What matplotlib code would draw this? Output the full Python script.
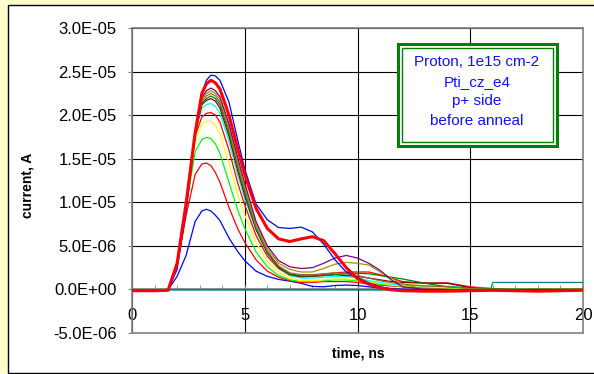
import numpy as np
import matplotlib.pyplot as plt
from matplotlib.patches import Rectangle
from matplotlib.lines import Line2D
from matplotlib.ticker import MultipleLocator, FuncFormatter

plt.rcParams['font.family'] = ['Liberation Sans', 'DejaVu Sans']

W, H = 594, 374

# time grid in ns, currents in units of 1e-6 A
time_ns = [0, 1.0, 1.6, 2.0, 2.4, 2.8, 3.1, 3.3, 3.5, 3.7,
           3.9, 4.3, 4.7, 5.0, 5.5, 6.0, 6.5, 7.0, 7.5,
           8.0, 8.5, 9.0, 9.5, 10.0, 10.5, 11.0, 11.5, 12.0,
           13.0, 14.0, 15.0, 16.0, 17.0, 18.0, 19.0, 20.0]

blue_big = [-0.1, -0.1, -0.05, 2.3, 9.0, 17.5, 22.5, 24.0, 24.6, 24.5,
            24.0, 21.5, 17.0, 13.8, 9.8, 8.0, 7.1, 7.0, 7.15,
            6.6, 5.2, 3.4, 2.0, 1.4, 0.75, 0.3, 0.1, 0.0,
            -0.05, -0.05, -0.05, -0.05, -0.05, -0.05, -0.05, -0.05]
red_thick = [-0.15, -0.15, -0.1, 3.0, 9.9, 18.0, 22.5, 23.6, 24.0, 23.7,
             23.0, 20.0, 16.0, 13.2, 9.3, 7.0, 5.8, 5.5, 5.8,
             6.05, 5.6, 4.1, 2.5, 1.25, 0.6, 0.2, -0.05, -0.15,
             -0.2, -0.2, -0.15, -0.1, -0.15, -0.2, -0.15, -0.1]
purple = [-0.1, -0.1, -0.05, 3.0, 9.9, 18.0, 22.0, 22.8, 23.1, 22.8,
          22.1, 19.0, 15.0, 12.2, 7.8, 5.0, 3.3, 2.6, 2.4,
          2.5, 3.0, 3.6, 3.9, 3.6, 3.0, 2.2, 1.1, 0.3,
          0.0, -0.05, -0.05, -0.05, -0.05, -0.05, -0.05, -0.05]
olive = [-0.1, -0.1, -0.05, 3.0, 9.9, 18.0, 21.8, 22.5, 22.8, 22.5,
         21.8, 18.7, 14.6, 11.8, 7.5, 4.7, 3.0, 2.3, 2.0,
         2.0, 2.4, 2.9, 3.1, 3.0, 2.8, 2.0, 1.3, 0.6,
         0.0, 0.0, 0.0, 0.0, 0.0, 0.0, 0.0, 0.0]
brown = [-0.1, -0.1, -0.05, 3.0, 9.9, 18.0, 21.6, 22.2, 22.5, 22.2,
         21.5, 18.3, 14.2, 11.4, 7.2, 4.4, 2.7, 1.9, 1.7,
         1.7, 1.8, 1.9, 1.8, 1.6, 1.3, 1.0, 0.8, 0.6,
         0.4, 0.3, 0.1, 0.0, 0.0, -0.05, -0.05, -0.05]
dark_green = [-0.1, -0.1, -0.05, 3.0, 9.9, 18.0, 21.4, 21.9, 22.2, 21.9,
              21.2, 18.0, 13.9, 11.1, 7.0, 4.3, 2.6, 1.8, 1.55,
              1.55, 1.6, 1.7, 1.8, 1.85, 1.8, 1.6, 1.4, 1.2,
              0.7, 0.3, 0.15, 0.05, 0.0, 0.0, 0.0, 0.0]
maroon = [-0.1, -0.1, -0.05, 3.0, 9.9, 18.0, 21.2, 21.7, 21.9, 21.6,
          20.8, 17.6, 13.5, 10.8, 6.9, 4.2, 2.5, 1.7, 1.5,
          1.5, 1.6, 1.7, 1.6, 1.5, 1.3, 1.1, 0.9, 0.8,
          0.75, 0.7, 0.2, 0.05, 0.0, 0.0, 0.0, 0.0]
cyan = [-0.1, -0.1, -0.05, 3.0, 9.9, 18.0, 20.8, 21.2, 21.35, 21.0,
        20.2, 17.0, 13.0, 10.4, 6.8, 4.1, 2.5, 1.6, 1.3,
        1.3, 1.4, 1.5, 1.5, 1.3, 1.0, 0.8, 0.6, 0.5,
        0.4, 0.35, 0.2, 0.1, 0.05, 0.0, 0.0, 0.0]
red_mid = [-0.1, -0.1, -0.05, 3.0, 9.9, 17.6, 19.8, 20.2, 20.3, 20.0,
           19.2, 16.0, 12.1, 9.7, 6.2, 3.8, 2.4, 1.6, 1.4,
           1.5, 1.75, 1.9, 2.0, 2.0, 2.0, 1.7, 1.3, 0.9,
           0.7, 0.75, 0.3, 0.1, 0.0, 0.0, 0.0, 0.0]
yellow = [-0.1, -0.1, -0.05, 3.0, 9.8, 17.0, 19.0, 19.3, 19.3, 18.8,
          17.8, 14.5, 10.8, 8.5, 5.4, 3.2, 2.0, 1.3, 1.0,
          1.0, 1.1, 1.2, 1.2, 1.1, 0.9, 0.7, 0.5, 0.4,
          0.3, 0.2, 0.1, 0.05, 0.0, 0.0, 0.0, 0.0]
lime = [-0.1, -0.1, -0.05, 3.0, 9.5, 15.8, 17.2, 17.45, 17.3, 16.7,
        15.6, 12.3, 9.0, 7.0, 4.3, 2.6, 1.6, 1.1, 0.9,
        0.9, 1.0, 1.1, 1.1, 1.0, 0.8, 0.6, 0.5, 0.35,
        0.25, 0.15, 0.1, 0.0, 0.0, 0.0, 0.0, 0.0]
red_small = [-0.1, -0.1, -0.05, 2.8, 8.5, 13.2, 14.4, 14.5, 14.2, 13.4,
             12.3, 9.4, 6.9, 5.4, 3.4, 2.1, 1.4, 1.0, 0.8,
             0.8, 0.9, 0.9, 0.9, 0.8, 0.6, 0.5, 0.4, 0.3,
             0.2, 0.1, 0.05, 0.0, 0.0, 0.0, 0.0, 0.0]
blue_small = [-0.1, -0.1, -0.05, 1.5, 3.9, 7.8, 9.0, 9.2, 9.0, 8.5,
              7.9, 5.9, 4.3, 3.3, 2.1, 1.5, 1.15, 0.95, 0.7,
              0.35, 0.3, 0.45, 0.5, 0.45, 0.3, 0.15, 0.05, 0.0,
              0.0, -0.05, -0.05, -0.05, -0.05, -0.05, -0.05, -0.05]

teal_t = [0, 15.9, 16.0, 20.0]
teal_v = [-0.07, -0.07, 0.8, 0.8]

box_lines = ["Proton, 1e15 cm-2", "Pti_cz_e4", "p+ side", "before anneal"]


def fx(px):
    return px / W


def fy(py):
    return 1 - py / H


def main():
    t = np.array(time_ns)
    fig = plt.figure(figsize=(W / 100, H / 100), dpi=100, facecolor='#FFFFCC')
    fig.add_artist(Rectangle((fx(8), fy(373)), 1.0, fy(5) - fy(373),
                             transform=fig.transFigure, facecolor='white',
                             edgecolor='black', lw=1, zorder=-1))

    ax = fig.add_axes([fx(132), fy(333), (583 - 132) / W, (333 - 28) / H])
    ax.set_facecolor('white')

    series = [
        (teal_v, '#008080', 0.9),
        (blue_small, '#0000FF', 0.9),
        (red_small, '#FF0000', 0.9),
        (lime, '#00FF00', 0.9),
        (yellow, '#FFFF00', 0.9),
        (red_mid, '#FF0000', 0.9),
        (cyan, '#00FFFF', 0.9),
        (maroon, '#800000', 0.9),
        (dark_green, '#008000', 0.9),
        (brown, '#996633', 0.9),
        (olive, '#999900', 0.9),
        (purple, '#800080', 0.9),
        (blue_big, '#0000FF', 0.9),
        (red_thick, '#FF0000', 2.2),
    ]
    for vals, col, lw in series:
        xs = teal_t if vals is teal_v else t
        ax.plot(xs, np.array(vals) * 1e-6, color=col, lw=lw, zorder=3)

    ax.set_xlim(0, 20)
    ax.set_ylim(-5e-6, 3e-5)
    ax.xaxis.set_major_locator(MultipleLocator(5))
    ax.xaxis.set_minor_locator(MultipleLocator(1))
    ax.yaxis.set_major_locator(MultipleLocator(5e-6))
    ax.yaxis.set_major_formatter(
        FuncFormatter(lambda v, p: f"{0.0 if abs(v) < 1e-12 else v:.1E}"))
    ax.grid(True, which='major', color='black', lw=0.8, zorder=1)
    ax.set_axisbelow(True)

    for s in ax.spines.values():
        s.set_color('#808080')
        s.set_linewidth(1.2)
    ax.spines['bottom'].set_position(('data', 0))
    ax.add_line(Line2D([0, 1], [0, 0], transform=ax.transAxes,
                       color='#808080', lw=1.2, clip_on=False))

    ax.tick_params(axis='x', which='both', direction='in', length=3,
                   color='#808080', labelsize=12, pad=13.5)
    ax.tick_params(axis='y', direction='out', length=3,
                   color='#808080', labelsize=12, pad=8)

    ax.set_ylabel('current, A', fontweight='bold', fontsize=10)
    ax.yaxis.set_label_coords((28 - 132) / 451, (333 - 185) / 305)
    ax.yaxis.label.set_va('center')
    ax.set_xlabel('time, ns', fontweight='bold', fontsize=10)
    ax.xaxis.set_label_coords((358 - 132) / 451, (333 - 353) / 305)
    ax.xaxis.label.set_va('center')

    # text box with double green border
    fig.add_artist(Rectangle((fx(398), fy(146)), fx(557) - fx(398), fy(44) - fy(146),
                             transform=fig.transFigure, facecolor='white',
                             edgecolor='#008000', lw=2.2, zorder=2))
    fig.add_artist(Rectangle((fx(402), fy(142)), fx(553) - fx(402), fy(48) - fy(142),
                             transform=fig.transFigure, facecolor='none',
                             edgecolor='#008000', lw=1.0, zorder=2))
    for i, line in enumerate(box_lines):
        fig.text(fx(477), fy(62 + i * 19.7), line, ha='center', va='center',
                 color='#1010FF', fontsize=11, zorder=3)

    fig.savefig('out.png', dpi=100, facecolor=fig.get_facecolor())


if __name__ == "__main__":
    main()
